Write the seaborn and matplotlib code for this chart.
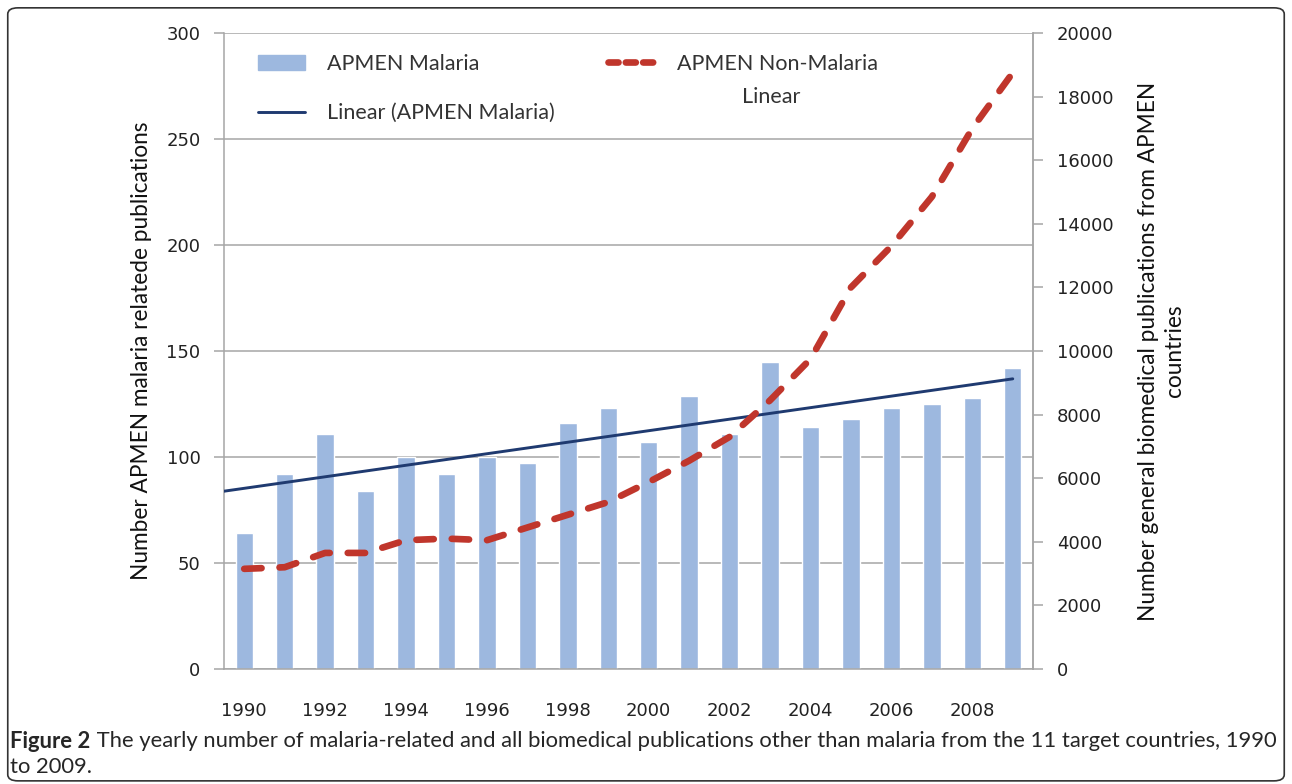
import numpy as np
import pandas as pd
import matplotlib
matplotlib.use("Agg")
import matplotlib.pyplot as plt
import seaborn as sns
from matplotlib.patches import Patch, FancyBboxPatch
from matplotlib.lines import Line2D

# data
years = list(range(1990, 2010))
malaria = [64, 92, 111, 84, 100, 92, 100, 97, 116, 123,
           107, 129, 111, 145, 114, 118, 123, 125, 128, 142]
non_malaria = [3150, 3200, 3650, 3650, 4050, 4100, 4050, 4450, 4850, 5250,
               5880, 6550, 7300, 8450, 9750, 12000, 13300, 14850, 17000, 18750]
year_labels = [str(y) if y % 2 == 0 else "" for y in years]

bar_col = "#9DB8DF"
trend_col = "#1F3A70"
red_col = "#C0362C"
grid_col = "#A6A6A6"

sns.set_style("white")
plt.rcParams["font.family"] = ["DejaVu Sans"]

df = pd.DataFrame({"year": [str(y) for y in years], "malaria": malaria,
                   "non_malaria": non_malaria, "pos": np.arange(len(years))})

fig = plt.figure(figsize=(12.92, 7.84), dpi=100)
ax = fig.add_axes([224 / 1292, 1 - 669 / 784, (1033 - 224) / 1292, (669 - 33) / 784])

sns.barplot(data=df, x="year", y="malaria", color=bar_col, saturation=1,
            width=0.43, ax=ax)

# linear trend of malaria publications
k, b = np.polyfit(df["pos"], df["malaria"], 1)
xs = np.array([-0.5, len(years) - 1])
ax.plot(xs, k * xs + b, color=trend_col, lw=2.1, zorder=3)

ax.set_xlim(-0.5, len(years) - 0.5)
ax.set_ylim(0, 300)
ax.set_yticks(range(0, 301, 50))
ax.yaxis.grid(True, color=grid_col, lw=1.1)
ax.set_axisbelow(True)
ax.set_xlabel("")
ax.set_ylabel("Number APMEN malaria relatede publications", family="Lato",
              fontsize=16.3, labelpad=10, color="#111111")

ax.set_xticks(np.arange(len(years)))
ax.set_xticklabels(year_labels)
ax.set_xticks(np.arange(-0.5, len(years)), minor=True)
ax.tick_params(axis="x", which="major", length=0, pad=24, labelsize=13, labelcolor="#222222")
ax.tick_params(axis="x", which="minor", length=8, color=grid_col, width=1.1, direction="out")
ax.tick_params(axis="y", length=7, color=grid_col, width=1.1, pad=10, labelsize=13,
               labelcolor="#222222", left=True)

ax.spines["top"].set_visible(False)
for s in ["left", "right", "bottom"]:
    ax.spines[s].set_color(grid_col)
    ax.spines[s].set_linewidth(1.1)

ax2 = ax.twinx()
sns.lineplot(data=df, x="pos", y="non_malaria", ax=ax2, color=red_col, lw=4.8,
             linestyle=(0, (2.6, 2.7)), dash_capstyle="round")
ax2.set_ylim(0, 20000)
ax2.set_yticks(range(0, 20001, 2000))
ax2.set_xlim(-0.5, len(years) - 0.5)
ax2.set_xlabel("")
ax2.set_ylabel("Number general biomedical publications from APMEN\ncountries",
               family="Lato", fontsize=16.3, labelpad=18, linespacing=1.3, color="#111111")
ax2.tick_params(axis="y", length=7, color=grid_col, width=1.1, pad=10, labelsize=13,
                labelcolor="#222222", right=True)
for s in ["top", "left", "bottom"]:
    ax2.spines[s].set_visible(False)
ax2.spines["right"].set_color(grid_col)
ax2.spines["right"].set_linewidth(1.1)

handles = [Patch(color=bar_col), Line2D([], [], color=trend_col, lw=2.1),
           Line2D([], [], color=red_col, lw=4.8, linestyle=(0, (1.5, 1.1)),
                  dash_capstyle="round")]
labels = ["APMEN Malaria", "Linear (APMEN Malaria)", "APMEN Non-Malaria"]
leg = ax2.legend(handles, labels, ncol=2, loc="upper left", bbox_to_anchor=(0.018, 0.998),
                 frameon=False, prop={"family": "Lato", "size": 15.5},
                 handlelength=2.2, handletextpad=1.0, labelspacing=1.38, columnspacing=2.5)
for t in leg.get_texts():
    t.set_color("#333333")
ax2.text(0.676, 0.899, "Linear", transform=ax2.transAxes, family="Lato", fontsize=15.5,
         ha="center", va="center", color="#333333")

# rounded border around the figure
fig.patches.append(FancyBboxPatch((0.006, 0.004), 0.988, 0.986,
                                  boxstyle="round,pad=0,rounding_size=0.008",
                                  transform=fig.transFigure, fill=False,
                                  ec="#333333", lw=1.2))

# caption
cap_y1 = 1 - 741 / 784
cap_y2 = 1 - 767 / 784
t1 = fig.text(0.008, cap_y1, "Figure 2", family="Lato", weight="bold",
              fontsize=15.8, va="center")
fig.canvas.draw()
bb = t1.get_window_extent()
fig.text(bb.x1 / fig.bbox.width, cap_y1,
         " The yearly number of malaria-related and all biomedical publications other than malaria from the 11 target countries, 1990",
         family="Lato", fontsize=15.8, va="center")
fig.text(0.008, cap_y2, "to 2009.", family="Lato", fontsize=15.8, va="center")

fig.savefig("out.png", dpi=100)
